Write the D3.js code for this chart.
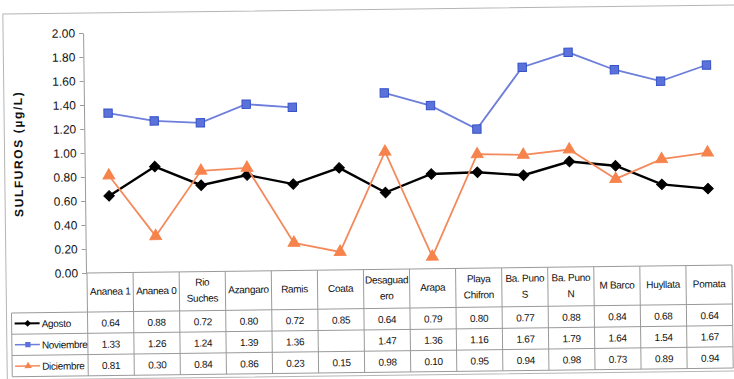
<!DOCTYPE html>
<html>
<head>
<meta charset="utf-8">
<script src="https://cdn.jsdelivr.net/npm/d3@7"></script>
<style>
  body { margin: 0; background: #fff; }
  svg { font-family: "Liberation Sans", Arial, sans-serif; }
</style>
</head>
<body>
<div id="chart"></div>
<script>
const categories = ["Ananea 1", "Ananea 0", "Rio Suches", "Azangaro", "Ramis", "Coata", "Desaguadero",
    "Arapa", "Playa Chifron", "Ba. Puno S", "Ba. Puno N", "M Barco", "Huyllata", "Pomata"];
const headerLines = [["Ananea 1"], ["Ananea 0"], ["Rio", "Suches"], ["Azangaro"], ["Ramis"], ["Coata"],
    ["Desaguad", "ero"], ["Arapa"], ["Playa", "Chifron"], ["Ba. Puno", "S"], ["Ba. Puno", "N"],
    ["M Barco"], ["Huyllata"], ["Pomata"]];
const agosto = [0.64, 0.88, 0.72, 0.80, 0.72, 0.85, 0.64, 0.79, 0.80, 0.77, 0.88, 0.84, 0.68, 0.64];
const noviembre = [1.33, 1.26, 1.24, 1.39, 1.36, null, 1.47, 1.36, 1.16, 1.67, 1.79, 1.64, 1.54, 1.67];
const diciembre = [0.81, 0.30, 0.84, 0.86, 0.23, 0.15, 0.98, 0.10, 0.95, 0.94, 0.98, 0.73, 0.89, 0.94];
const yTicks = [0, 0.2, 0.4, 0.6, 0.8, 1.0, 1.2, 1.4, 1.6, 1.8, 2.0];

const series = [
    { name: "Agosto", values: agosto, color: "#000", width: 2.4, marker: d3.symbolDiamond2, size: 70, fill: "#000", stroke: "#000" },
    { name: "Noviembre", values: noviembre, color: "#6d7edb", width: 1.8, marker: d3.symbolSquare, size: 70, fill: "#5a72da", stroke: "#3652c9" },
    { name: "Diciembre", values: diciembre, color: "#f48a5c", width: 1.8, marker: d3.symbolTriangle, size: 60, fill: "#f6834c", stroke: "#f6834c" }
];

const svg = d3.select("#chart").append("svg")
    .attr("width", 734)
    .attr("height", 379);

// the scan is slightly tilted
const g = svg.append("g").attr("transform", "rotate(-0.7, 87, 273)");

const x = d3.scaleBand().domain(categories).range([87, 732]);
const y = d3.scaleLinear().domain([0, 2]).range([273, 33]);

const rowTop = 312, rowH = 21.3, legendLeft = 11;
const grid = "#9a9a9a";

// outer frame
g.append("rect")
    .attr("x", 6).attr("y", 13)
    .attr("width", 820).attr("height", 366)
    .attr("fill", "none").attr("stroke", "#b5b5b5").attr("stroke-width", 1);

// y axis
const yAxis = g.append("g")
    .attr("transform", "translate(86,0)")
    .call(d3.axisLeft(y).tickValues(yTicks).tickFormat(d3.format(".2f")).tickSize(4).tickSizeOuter(0));
yAxis.select(".domain").attr("stroke", grid);
yAxis.selectAll(".tick line").attr("stroke", grid);
yAxis.selectAll(".tick text")
    .attr("font-size", 12).attr("fill", "#111").attr("x", -8);

g.append("text")
    .attr("transform", "translate(24,153) rotate(-90)")
    .attr("text-anchor", "middle")
    .attr("font-size", 12)
    .attr("font-weight", "bold")
    .attr("letter-spacing", 1.6)
    .attr("fill", "#111")
    .text("SULFUROS (µg/L)");

// table grid
const tableBottom = rowTop + rowH * 3;
g.append("line")
    .attr("x1", 86).attr("x2", 732).attr("y1", 273).attr("y2", 273)
    .attr("stroke", grid);
[0, 1, 2, 3].forEach(i => {
    g.append("line")
        .attr("x1", legendLeft).attr("x2", 732)
        .attr("y1", rowTop + i * rowH).attr("y2", rowTop + i * rowH)
        .attr("stroke", grid);
});
g.append("line")
    .attr("x1", legendLeft).attr("x2", legendLeft)
    .attr("y1", rowTop).attr("y2", tableBottom)
    .attr("stroke", grid);
g.selectAll(".vline")
    .data(categories.concat(["end"]))
    .enter().append("line")
    .attr("x1", (d, i) => 87 + i * x.bandwidth())
    .attr("x2", (d, i) => 87 + i * x.bandwidth())
    .attr("y1", 273).attr("y2", tableBottom)
    .attr("stroke", grid);

// header labels
const headers = g.selectAll(".hdr")
    .data(categories)
    .enter().append("text")
    .attr("text-anchor", "middle")
    .attr("font-size", 10)
    .attr("letter-spacing", -0.3)
    .attr("fill", "#111")
    .attr("x", d => x(d) + x.bandwidth() / 2)
    .attr("y", (d, i) => headerLines[i].length === 1 ? 295 : 287);
headers.each(function (d, i) {
    d3.select(this).selectAll("tspan")
        .data(headerLines[i])
        .enter().append("tspan")
        .attr("x", x(d) + x.bandwidth() / 2)
        .attr("dy", (t, j) => j === 0 ? 0 : 16)
        .text(t => t);
});

// table values and legend
series.forEach((s, r) => {
    const cy = rowTop + r * rowH + rowH / 2;
    g.selectAll(".val" + r)
        .data(s.values)
        .enter().append("text")
        .attr("text-anchor", "middle")
        .attr("font-size", 10)
        .attr("letter-spacing", -0.3)
        .attr("fill", "#111")
        .attr("x", (d, i) => x(categories[i]) + x.bandwidth() / 2)
        .attr("y", cy + 4)
        .text(d => d === null ? "" : d.toFixed(2));

    g.append("line")
        .attr("x1", legendLeft + 3).attr("x2", legendLeft + 28)
        .attr("y1", cy).attr("y2", cy)
        .attr("stroke", s.color).attr("stroke-width", r === 0 ? 2 : 1.5);
    g.append("path")
        .attr("d", d3.symbol().type(s.marker).size(s.size * 0.4)())
        .attr("transform", "translate(" + (legendLeft + 16) + "," + cy + ")")
        .attr("fill", s.fill);
    g.append("text")
        .attr("x", legendLeft + 30).attr("y", cy + 4)
        .attr("font-size", 10)
        .attr("letter-spacing", -0.3)
        .attr("fill", "#111")
        .text(s.name);
});

// lines and markers
series.forEach(s => {
    const line = d3.line()
        .defined(d => d !== null)
        .x((d, i) => x(categories[i]) + x.bandwidth() / 2)
        .y(d => y(d));
    g.append("path")
        .datum(s.values)
        .attr("d", line)
        .attr("fill", "none")
        .attr("stroke", s.color)
        .attr("stroke-width", s.width);
    g.selectAll(null)
        .data(s.values.map((v, i) => ({ v: v, c: categories[i] })).filter(d => d.v !== null))
        .enter().append("path")
        .attr("d", d3.symbol().type(s.marker).size(s.size)())
        .attr("transform", d => "translate(" + (x(d.c) + x.bandwidth() / 2) + "," + y(d.v) + ")")
        .attr("fill", s.fill)
        .attr("stroke", s.stroke)
        .attr("stroke-width", 1);
});
</script>
</body>
</html>
